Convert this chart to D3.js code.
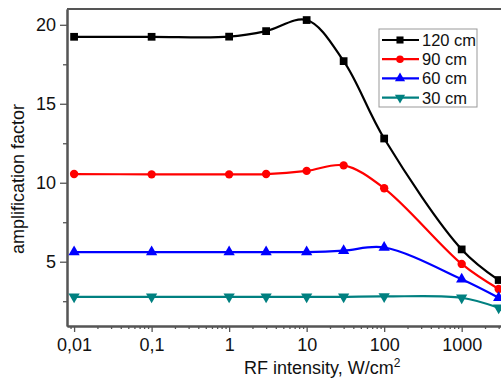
<!DOCTYPE html>
<html>
<head>
<meta charset="utf-8">
<script src="https://cdn.jsdelivr.net/npm/d3@7"></script>
<style>
  body { margin: 0; background: #fff; }
  svg { font-family: Arial, "Liberation Sans", sans-serif; }
</style>
</head>
<body>
<svg id="area" width="501" height="378"></svg>
<script>
// values
let intensity = [0.01, 0.1, 1, 3, 10, 30, 100, 1000, 3000];
let amp120 = [19.24, 19.24, 19.25, 19.6, 20.3, 17.7, 12.8, 5.78, 3.84];
let amp90  = [10.55, 10.53, 10.53, 10.55, 10.75, 11.1, 9.65, 4.86, 3.27];
let amp60  = [5.61, 5.61, 5.61, 5.61, 5.61, 5.7, 5.9, 3.89, 2.72];
let amp30  = [2.78, 2.78, 2.78, 2.78, 2.78, 2.78, 2.8, 2.72, 2.08];
let seriesNames = ["120 cm", "90 cm", "60 cm", "30 cm"];
let xTickValues = [0.01, 0.1, 1, 10, 100, 1000];
let xTickLabels = ["0,01", "0,1", "1", "10", "100", "1000"];
let yTickValues = [5, 10, 15, 20];
let yMinorValues = [2.5, 7.5, 12.5, 17.5];

let colors = ["#000000", "#ff0000", "#0000ff", "#008080"];
let symbols = [d3.symbolSquare, d3.symbolCircle, d3.symbolTriangle, d3.symbolTriangle];

let series = [amp120, amp90, amp60, amp30].map((vals, i) => ({
  name: seriesNames[i],
  color: colors[i],
  symbol: symbols[i],
  flip: i === 3,
  values: vals.map((v, j) => ({x: intensity[j], y: v}))
}));

let svg = d3.select("#area");
let plotLeft = 67, plotTop = 9, plotBottom = 326, plotRight = 505;

let xScale = d3.scaleLog()
    .domain([0.0081, 3620])
    .range([plotLeft, plotRight]);
let yScale = d3.scaleLinear()
    .domain([0.93, 21.0])
    .range([plotBottom, plotTop]);

let axisColor = "#555";

// minor log ticks
let minor = [];
for (let e = -3; e <= 3; e++) {
  for (let m = 2; m <= 9; m++) {
    let v = m * Math.pow(10, e);
    if (xScale(v) >= plotLeft && xScale(v) <= 501) minor.push(v);
  }
}

let xAxis = d3.axisBottom(xScale)
    .tickValues(xTickValues)
    .tickFormat((d, i) => xTickLabels[i])
    .tickSize(6).tickSizeOuter(0);
let xMinor = d3.axisBottom(xScale).tickValues(minor).tickFormat("").tickSize(3).tickSizeOuter(0);

let gx = svg.append("g").attr("transform", "translate(0," + plotBottom + ")").call(xAxis);
svg.append("g").attr("transform", "translate(0," + plotBottom + ")").call(xMinor);

let yAxis = d3.axisLeft(yScale).tickValues(yTickValues).tickSize(7).tickSizeOuter(0).tickPadding(4);
let yMinor = d3.axisLeft(yScale).tickValues(yMinorValues).tickFormat("").tickSize(4).tickSizeOuter(0);
let gy = svg.append("g").attr("transform", "translate(" + plotLeft + ",0)").call(yAxis);
svg.append("g").attr("transform", "translate(" + plotLeft + ",0)").call(yMinor);

svg.selectAll(".domain").attr("stroke", axisColor).attr("stroke-width", 2);
svg.selectAll(".tick line").attr("stroke", axisColor).attr("stroke-width", 1.3);
svg.selectAll(".tick text").attr("font-size", 18).attr("fill", "#111")
    .attr("font-family", "Arial, 'Liberation Sans', sans-serif");
gx.selectAll(".tick text").attr("dy", "0.9em");

// top frame line
svg.append("line")
    .attr("x1", plotLeft).attr("x2", 501)
    .attr("y1", plotTop).attr("y2", plotTop)
    .attr("stroke", axisColor).attr("stroke-width", 2);

// curves
let line = d3.line()
    .x(d => xScale(d.x))
    .y(d => yScale(d.y))
    .curve(d3.curveCatmullRom.alpha(0.5));

let groups = svg.selectAll(".series")
    .data(series)
    .enter().append("g")
    .attr("class", "series");

groups.append("path")
    .attr("d", d => line(d.values))
    .style("fill", "none")
    .style("stroke", d => d.color)
    .style("stroke-width", "2.2px");

groups.each(function(s) {
  d3.select(this).selectAll("path.mark")
    .data(s.values)
    .enter().append("path")
    .attr("class", "mark")
    .attr("d", d3.symbol().type(s.symbol).size(s.symbol === d3.symbolSquare ? 60 : 55))
    .attr("transform", d => "translate(" + xScale(d.x) + "," + yScale(d.y) + ")" + (s.flip ? " rotate(180)" : ""))
    .style("fill", s.color);
});

// legend
let legend = svg.append("g").attr("transform", "translate(379,29)");
legend.append("rect")
    .attr("x", 0).attr("y", 0).attr("width", 98).attr("height", 78)
    .style("fill", "#fff").style("stroke", "#999").style("stroke-width", 1);

series.forEach((s, i) => {
  let yy = 11 + i * 19.2;
  legend.append("line")
    .attr("x1", 3).attr("x2", 40).attr("y1", yy).attr("y2", yy)
    .style("stroke", s.color).style("stroke-width", 2.2);
  legend.append("path")
    .attr("d", d3.symbol().type(s.symbol).size(s.symbol === d3.symbolSquare ? 50 : 45))
    .attr("transform", "translate(21," + yy + ")" + (s.flip ? " rotate(180)" : ""))
    .style("fill", s.color);
  legend.append("text")
    .attr("x", 43).attr("y", yy + 6)
    .attr("font-size", 16.5).attr("fill", "#111")
    .text(s.name);
});

// axis titles
let xt = svg.append("text")
    .attr("x", 244).attr("y", 374)
    .attr("font-size", 18).attr("fill", "#111")
    .text("RF intensity, W/cm");
xt.append("tspan").attr("dy", -7.5).attr("font-size", 12).text("2");

svg.append("text")
    .attr("transform", "translate(24,179) rotate(-90)")
    .attr("text-anchor", "middle")
    .attr("font-size", 18).attr("fill", "#111")
    .text("amplification factor");
</script>
</body>
</html>
